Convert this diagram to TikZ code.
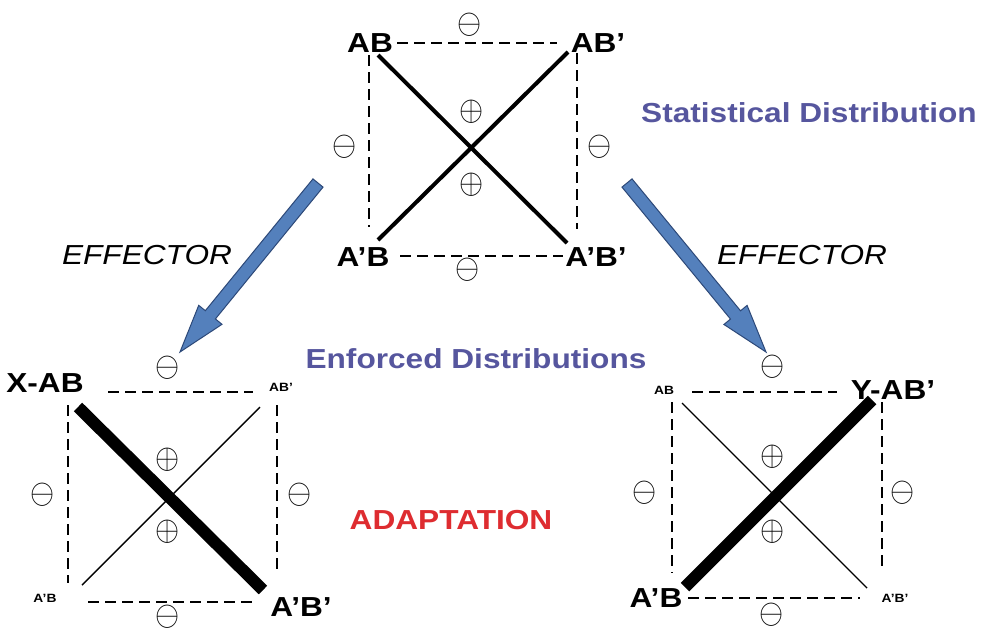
\documentclass[tikz,border=0pt]{standalone}
\usepackage{fontspec}
\usepackage{graphicx}
\setmainfont{Liberation Sans}
\usetikzlibrary{calc}
\definecolor{lblblue}{RGB}{86,86,158}
\definecolor{adred}{RGB}{222,44,48}
\definecolor{arrfill}{RGB}{84,128,188}
\definecolor{arrline}{RGB}{44,72,120}
\newcommand{\sminus}{\scalebox{3.1}[3.5]{$\ominus$}}
\newcommand{\splus}{\scalebox{3.1}[3.5]{$\oplus$}}
\tikzset{
  big/.style={inner sep=0pt, xscale=1.15, font=\fontsize{27.5}{30}\selectfont\bfseries},
  small/.style={inner sep=0pt, xscale=1.15, font=\fontsize{12}{13}\selectfont\bfseries},
  title/.style={inner sep=0pt, xscale=1.15, text=lblblue, font=\fontsize{27.5}{30}\selectfont\bfseries},
  eff/.style={inner sep=0pt, xscale=1.15, font=\fontsize{27.5}{30}\selectfont\itshape},
  sym/.style={inner sep=0pt},
  dash line/.style={line width=1.8pt, dash pattern=on 11pt off 6pt},
  bond/.style={line width=4pt},
  strong/.style={line width=12pt},
  weak/.style={line width=1.4pt},
  blockarrow/.style={fill=arrfill, draw=arrline, line width=1pt, line join=miter},
}
\newcommand{\blockarr}[2]{%
  \coordinate (hb) at ($(#2)!48pt!(#1)$);
  \path[blockarrow]
    ($(#1)!6.5pt!90:(#2)$) -- ($(hb)!6.5pt!-90:(#1)$) -- ($(hb)!15pt!-90:(#1)$) --
    (#2) -- ($(hb)!15pt!90:(#1)$) -- ($(hb)!6.5pt!90:(#1)$) -- ($(#1)!6.5pt!-90:(#2)$) -- cycle;
}
\begin{document}
\begin{tikzpicture}[x=1pt,y=-1pt]
\useasboundingbox[fill=white] (0,0) rectangle (984,633);

% ---------- top diagram ----------
\node[big] (tAB) at (370,43) {AB};
\node[big] (tABp) at (598,43) {AB’};
\node[big] (tApB) at (363,257) {A’B};
\node[big] (tApBp) at (596,257) {A’B’};
\coordinate (t1) at (397,43); \coordinate (t2) at (557,43);
\coordinate (t3) at (400,256); \coordinate (t4) at (563,256);
\coordinate (t5) at (369,55); \coordinate (t6) at (369,227);
\coordinate (t7) at (577,53); \coordinate (t8) at (577,229);
\coordinate (t9) at (378,55); \coordinate (t10) at (567,243);
\coordinate (t11) at (378,240); \coordinate (t12) at (568,52);
\draw[dash line] (t1) -- (t2);
\draw[dash line] (t3) -- (t4);
\draw[dash line] (t5) -- (t6);
\draw[dash line] (t7) -- (t8);
\draw[bond] (t9) -- (t10);
\draw[bond] (t11) -- (t12);
\node[sym] (ts1) at (470,25) {\sminus};
\node[sym] (ts2) at (472,112) {\splus};
\node[sym] (ts3) at (472,185) {\splus};
\node[sym] (ts4) at (345,147) {\sminus};
\node[sym] (ts5) at (600,147) {\sminus};
\node[sym] (ts6) at (468,270) {\sminus};

\node[title] (stat) at (809,113) {Statistical Distribution};

% ---------- arrows ----------
\coordinate (la1) at (318,183); \coordinate (la2) at (180,352);
\coordinate (ra1) at (627,183); \coordinate (ra2) at (766,352);
\blockarr{la1}{la2}
\blockarr{ra1}{ra2}
\node[eff] (effL) at (147,255) {EFFECTOR};
\node[eff] (effR) at (802,255) {EFFECTOR};

\node[title] (enf) at (476,359) {Enforced Distributions};
\node[inner sep=0pt, xscale=1.15, text=adred, font=\fontsize{27.5}{30}\selectfont\bfseries] (adapt) at (451,520) {ADAPTATION};

% ---------- bottom-left diagram ----------
\node[big] (lXAB) at (45,383) {X-AB};
\node[small] (lABp) at (281,387) {AB’};
\node[small] (lApB) at (45,598) {A’B};
\node[big] (lApBp) at (301,607) {A’B’};
\coordinate (l1) at (108,392); \coordinate (l2) at (253,392);
\coordinate (l3) at (88,602); \coordinate (l4) at (252,602);
\coordinate (l5) at (68,405); \coordinate (l6) at (68,583);
\coordinate (l7) at (277,405); \coordinate (l8) at (277,570);
\coordinate (l9) at (78,407); \coordinate (l10) at (263,590);
\coordinate (l11) at (82,585); \coordinate (l12) at (260,407);
\draw[dash line] (l1) -- (l2);
\draw[dash line] (l3) -- (l4);
\draw[dash line] (l5) -- (l6);
\draw[dash line] (l7) -- (l8);
\draw[strong] (l9) -- (l10);
\draw[weak] (l11) -- (l12);
\node[sym] (ls1) at (168,368) {\sminus};
\node[sym] (ls2) at (168,460) {\splus};
\node[sym] (ls3) at (168,532) {\splus};
\node[sym] (ls4) at (43,495) {\sminus};
\node[sym] (ls5) at (300,495) {\sminus};
\node[sym] (ls6) at (168,617) {\sminus};

% ---------- bottom-right diagram ----------
\node[small] (rAB) at (664,390) {AB};
\node[big] (rYABp) at (893,390) {Y-AB’};
\node[big] (rApB) at (656,598) {A’B};
\node[small] (rApBp) at (895,598) {A’B’};
\coordinate (r1) at (692,392); \coordinate (r2) at (837,392);
\coordinate (r3) at (688,598); \coordinate (r4) at (860,598);
\coordinate (r5) at (672,402); \coordinate (r6) at (672,573);
\coordinate (r7) at (882,402); \coordinate (r8) at (882,570);
\coordinate (r9) at (685,587); \coordinate (r10) at (872,400);
\coordinate (r11) at (682,403); \coordinate (r12) at (867,588);
\draw[dash line] (r1) -- (r2);
\draw[dash line] (r3) -- (r4);
\draw[dash line] (r5) -- (r6);
\draw[dash line] (r7) -- (r8);
\draw[strong] (r9) -- (r10);
\draw[weak] (r11) -- (r12);
\node[sym] (rs1) at (773,367) {\sminus};
\node[sym] (rs2) at (773,457) {\splus};
\node[sym] (rs3) at (773,532) {\splus};
\node[sym] (rs4) at (645,493) {\sminus};
\node[sym] (rs5) at (903,493) {\sminus};
\node[sym] (rs6) at (772,615) {\sminus};
\end{tikzpicture}
\end{document}
